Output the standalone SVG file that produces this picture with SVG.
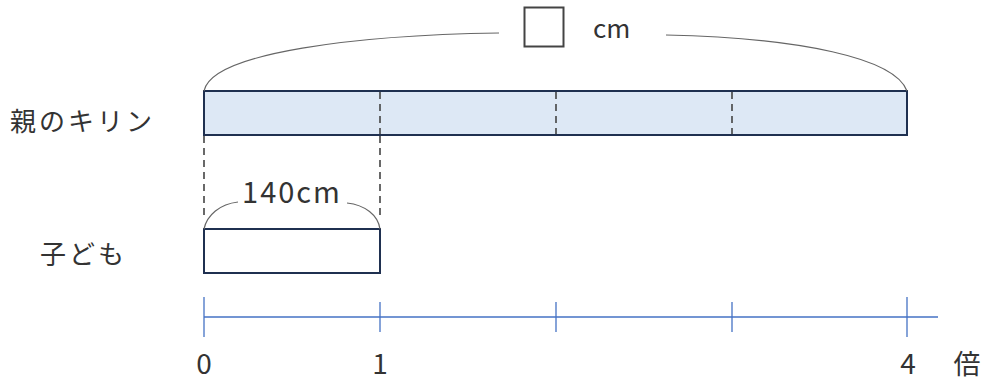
<svg xmlns="http://www.w3.org/2000/svg" width="984" height="382" viewBox="0 0 984 382">
<style>
.lbl{font-family:"Noto Sans CJK JP","Noto Sans",sans-serif;fill:#333;}
.bar{stroke:#1f3050;stroke-width:2;}
.dash{stroke:#444;stroke-width:1.6;stroke-dasharray:7,5;fill:none;}
.brace{stroke:#666;stroke-width:1.2;fill:none;}
.axis{stroke:#4472c4;stroke-width:1.3;}
</style>
<rect width="984" height="382" fill="#fff"/>
<g id="parent">
<rect class="bar" x="204" y="91" width="703" height="44" fill="#dde8f5"/>
<line class="dash" x1="380" y1="92" x2="380" y2="134"/>
<line class="dash" x1="556" y1="92" x2="556" y2="134"/>
<line class="dash" x1="732" y1="92" x2="732" y2="134"/>
<text class="lbl" x="10" y="131" font-size="26" letter-spacing="3">親のキリン</text>
</g>
<g id="child">
<rect class="bar" x="204" y="229" width="176" height="44" fill="#fff"/>
<text class="lbl" x="40" y="264" font-size="26" letter-spacing="3">子ども</text>
</g>
<g id="total">
<rect x="524.5" y="7.5" width="39" height="39" fill="none" stroke="#444" stroke-width="2"/>
<text class="lbl" x="593" y="38" font-size="26">cm</text>
</g>
<g id="childlabel">
<text class="lbl" x="292" y="203" font-size="29" text-anchor="middle" letter-spacing="2">140cm</text>
</g>
<g id="connectors">
<path class="brace" d="M204,91 C212,52 360,35 499,33"/>
<path class="brace" d="M666,35 C800,38 895,58 907,91"/>
<path class="brace" d="M204,229 C207,215 220,204 238,202"/>
<path class="brace" d="M347,203 C365,205 378,215 380,229"/>
<line class="dash" x1="204" y1="136" x2="204" y2="220"/>
<line class="dash" x1="380" y1="136" x2="380" y2="220"/>
</g>
<g id="axis">
<line class="axis" x1="204" y1="317" x2="938" y2="317"/>
<line class="axis" x1="204" y1="297" x2="204" y2="337"/>
<line class="axis" x1="380" y1="302" x2="380" y2="332"/>
<line class="axis" x1="556" y1="302" x2="556" y2="332"/>
<line class="axis" x1="732" y1="302" x2="732" y2="332"/>
<line class="axis" x1="907" y1="297" x2="907" y2="337"/>
<text class="lbl" x="204" y="374" font-size="28" text-anchor="middle">0</text>
<text class="lbl" x="380" y="374" font-size="28" text-anchor="middle">1</text>
<text class="lbl" x="908" y="374" font-size="28" text-anchor="middle">4</text>
<text class="lbl" x="967" y="374" font-size="27" text-anchor="middle">倍</text>
</g>
</svg>
